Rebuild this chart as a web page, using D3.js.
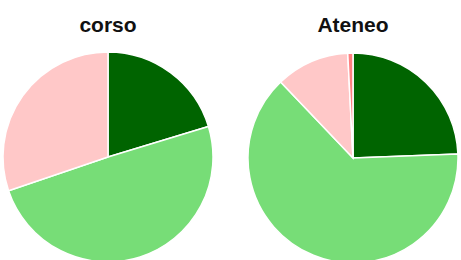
<!DOCTYPE html>
<html><head><meta charset="utf-8">
<script src="https://cdn.jsdelivr.net/npm/d3@7"></script>
<style>body{margin:0;background:#fff}svg{display:block}</style>
</head><body>
<script>
const categories = ["A", "B", "C", "D"];
const titles = ["corso", "Ateneo"];
const corsoValues = [20.3, 49.5, 30.2, 0];
const ateneoValues = [24.4, 63.5, 11.3, 0.8];
const colors = ["#006400", "#77dd77", "#ffc8c8", "#ff8080"];

const W = 461, H = 260;
const svg = d3.select("body").append("svg").attr("width", W).attr("height", H);
const color = d3.scaleOrdinal().domain(categories).range(colors);
const pie = d3.pie().sort(null).value(d => d.v);
const arc = d3.arc().innerRadius(0).outerRadius(105);

const panels = [
  {title: titles[0], values: corsoValues, cx: 108, cy: 157, tx: 108},
  {title: titles[1], values: ateneoValues, cx: 353, cy: 158, tx: 353}
];
panels.forEach(p => {
  const data = categories.map((c, i) => ({c, v: p.values[i]}));
  const g = svg.append("g").attr("transform", `translate(${p.cx},${p.cy})`);
  g.selectAll("path").data(pie(data).filter(d => d.data.v > 0)).join("path")
    .attr("d", arc)
    .attr("fill", d => color(d.data.c))
    .attr("stroke", "#fff").attr("stroke-width", 1.5);
  svg.append("text").attr("x", p.tx).attr("y", 32)
    .attr("text-anchor", "middle")
    .attr("font-family", "Liberation Sans, Arial, sans-serif")
    .attr("font-weight", "bold").attr("font-size", 21)
    .attr("fill", "#111")
    .text(p.title);
});
</script>
</body></html>
